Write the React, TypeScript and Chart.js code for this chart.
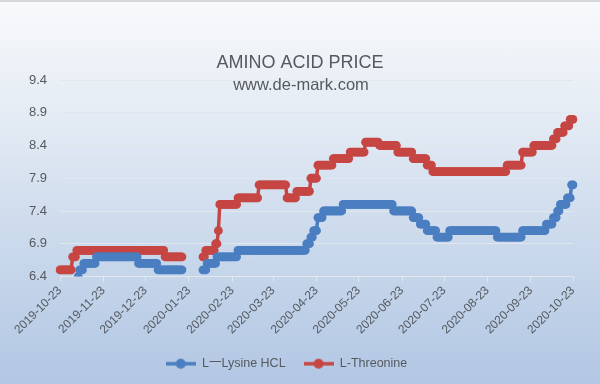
import React, { useEffect, useRef } from 'react';
import { Chart, registerables } from 'chart.js';

Chart.register(...registerables);

const START_DATE = '2019-10-23';
const END_DATE = '2020-10-23';
const TITLE = 'AMINO ACID PRICE';
const SUBTITLE = 'www.de-mark.com';
const yTickValues = [6.4, 6.9, 7.4, 7.9, 8.4, 8.9, 9.4];
const seriesNames = ['L一Lysine HCL', 'L-Threonine'];

// price change dates (value holds until the next date; null = no quotes)
const lysineDates = [
  '2019-11-05', '2019-11-06', '2019-11-09', '2019-11-18', '2019-12-18', '2020-01-01',
  '2020-01-19', '2020-02-02', '2020-02-05', '2020-02-12', '2020-02-27', '2020-04-16',
  '2020-04-19', '2020-04-21', '2020-04-24', '2020-04-28', '2020-05-12', '2020-06-17',
  '2020-07-01', '2020-07-06', '2020-07-11', '2020-07-18', '2020-07-27', '2020-08-30',
  '2020-09-17', '2020-10-04', '2020-10-09', '2020-10-12', '2020-10-14', '2020-10-19',
  '2020-10-22',
];
const lysineValues = [
  6.4, 6.5, 6.6, 6.7, 6.6, 6.5,
  null, 6.5, 6.6, 6.7, 6.8, 6.9,
  7.0, 7.1, 7.3, 7.4, 7.5, 7.4,
  7.3, 7.2, 7.1, 7.0, 7.1, 7.0,
  7.1, 7.2, 7.3, 7.4, 7.5, 7.6,
  7.8,
];

const threonineDates = [
  '2019-10-23', '2019-11-01', '2019-11-04', '2020-01-06', '2020-01-19', '2020-02-02',
  '2020-02-04', '2020-02-11', '2020-02-13', '2020-02-14', '2020-02-27', '2020-03-13',
  '2020-04-02', '2020-04-09', '2020-04-19', '2020-04-24', '2020-05-05', '2020-05-17',
  '2020-05-28', '2020-06-07', '2020-06-20', '2020-07-01', '2020-07-11', '2020-07-15',
  '2020-09-06', '2020-09-17', '2020-09-25', '2020-10-09', '2020-10-12', '2020-10-17',
  '2020-10-21',
];
const threonineValues = [
  6.5, 6.7, 6.8, 6.7, null, 6.7,
  6.8, 6.9, 7.1, 7.5, 7.6, 7.8,
  7.6, 7.7, 7.9, 8.1, 8.2, 8.3,
  8.45, 8.4, 8.3, 8.2, 8.1, 8.0,
  8.1, 8.3, 8.4, 8.5, 8.6, 8.7,
  8.8,
];

const BLUE = '#4a7ec1';
const RED = '#c64643';
const FONT = "'Liberation Sans', 'Noto Sans CJK SC', sans-serif";
const TEXT = '#555a60';
const GRID = '#e2e7ee';

function dayList(start: string, end: string): string[] {
  const out: string[] = [];
  let t = Date.parse(start + 'T00:00:00Z');
  const e = Date.parse(end + 'T00:00:00Z');
  while (t <= e) {
    out.push(new Date(t).toISOString().slice(0, 10));
    t += 86400000;
  }
  return out;
}

const dayLabels = dayList(START_DATE, END_DATE);

function expandSteps(dates: string[], values: (number | null)[]): (number | null)[] {
  return dayLabels.map((d) => {
    let v: number | null = null;
    for (let i = 0; i < dates.length; i++) {
      if (dates[i] <= d) v = values[i];
      else break;
    }
    return v;
  });
}

function legendMarker(color: string): HTMLCanvasElement {
  const c = document.createElement('canvas');
  c.width = 30;
  c.height = 12;
  const ctx = c.getContext('2d')!;
  ctx.strokeStyle = color;
  ctx.lineWidth = 3.5;
  ctx.beginPath();
  ctx.moveTo(0, 6);
  ctx.lineTo(30, 6);
  ctx.stroke();
  ctx.fillStyle = color;
  ctx.beginPath();
  ctx.arc(15, 6, 5, 0, Math.PI * 2);
  ctx.fill();
  return c;
}

export default function App() {
  const canvasRef = useRef<HTMLCanvasElement | null>(null);

  useEffect(() => {
    if (!canvasRef.current) return;
    const markers = [legendMarker(BLUE), legendMarker(RED)];

    const titlePlugin = {
      id: 'titleTexts',
      afterDraw(chart: any) {
        const ctx = chart.ctx;
        ctx.save();
        ctx.fillStyle = TEXT;
        ctx.textAlign = 'center';
        ctx.textBaseline = 'alphabetic';
        ctx.font = `18px ${FONT}`;
        ctx.fillText(TITLE, 300, 66);
        ctx.font = `16.5px ${FONT}`;
        ctx.fillText(SUBTITLE, 301, 88);
        ctx.restore();
      },
    };

    const chart = new Chart(canvasRef.current, {
      type: 'line',
      data: {
        labels: dayLabels,
        datasets: [
          {
            label: seriesNames[0],
            data: expandSteps(lysineDates, lysineValues),
            borderColor: BLUE,
            backgroundColor: BLUE,
            pointBackgroundColor: BLUE,
            pointBorderColor: BLUE,
            pointBorderWidth: 0,
            pointRadius: 4.4,
            borderWidth: 3.5,
            spanGaps: false,
            tension: 0,
          },
          {
            label: seriesNames[1],
            data: expandSteps(threonineDates, threonineValues),
            borderColor: RED,
            backgroundColor: RED,
            pointBackgroundColor: RED,
            pointBorderColor: RED,
            pointBorderWidth: 0,
            pointRadius: 4.4,
            borderWidth: 3.5,
            spanGaps: false,
            tension: 0,
          },
        ],
      },
      options: {
        animation: false,
        responsive: false,
        maintainAspectRatio: false,
        events: [],
        layout: { padding: { top: 78, right: 27, left: 0, bottom: 4 } },
        plugins: {
          tooltip: { enabled: false },
          title: { display: false },
          legend: {
            display: true,
            position: 'bottom',
            labels: {
              usePointStyle: true,
              pointStyleWidth: 30,
              padding: 18,
              color: TEXT,
              font: { family: FONT, size: 12.5 },
              generateLabels(ch: any) {
                const items = (Chart as any).defaults.plugins.legend.labels.generateLabels(ch);
                return items.map((it: any, i: number) => ({ ...it, pointStyle: markers[i] }));
              },
            },
          },
        },
        scales: {
          x: {
            type: 'category',
            offset: false,
            afterBuildTicks(scale: any) {
              scale.ticks = scale.ticks.filter((t: any) => dayLabels[t.value].endsWith('-23'));
            },
            afterFit(scale: any) {
              scale.height = 63;
            },
            ticks: {
              autoSkip: false,
              minRotation: 45,
              maxRotation: 45,
              padding: 2,
              color: TEXT,
              font: { family: FONT, size: 12 },
            },
            grid: {
              display: true,
              drawOnChartArea: false,
              drawTicks: true,
              tickLength: 5,
              color: GRID,
            },
            border: { display: true, color: GRID, width: 1 },
          },
          y: {
            min: 6.4,
            max: 9.4,
            afterBuildTicks(scale: any) {
              scale.ticks = yTickValues.map((v) => ({ value: v }));
            },
            afterFit(scale: any) {
              scale.width = 60;
            },
            ticks: {
              padding: 13,
              color: TEXT,
              font: { family: FONT, size: 13 },
              callback: (v: any) => Number(v).toFixed(1),
            },
            grid: { color: GRID, drawTicks: false, lineWidth: 1 },
            border: { display: false },
          },
        },
      },
      plugins: [titlePlugin],
    } as any);

    return () => chart.destroy();
  }, []);

  return (
    <div
      style={{
        position: 'fixed',
        left: 0,
        top: 0,
        width: 600,
        height: 384,
        boxSizing: 'border-box',
        borderTop: '2px solid #d3d7dc',
        background: 'linear-gradient(to bottom, #f8f9fb 0%, #e4ebf4 30%, #c9d8eb 65%, #b2c7e4 100%)',
      }}
    >
      <canvas ref={canvasRef} width={600} height={382} style={{ display: 'block', width: 600, height: 382 }} />
    </div>
  );
}
